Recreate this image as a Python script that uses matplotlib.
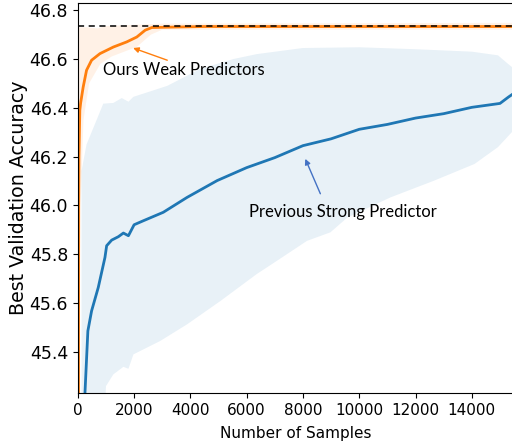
import numpy as np
from matplotlib import pyplot as plt

# previous strong predictor (blue): mean curve
strong_x = [200, 357, 489, 726, 964, 1024, 1202, 1440, 1619, 1798, 2000, 2321, 3036,
            3881, 4952, 6000, 7000, 8000, 9000, 10000, 11000, 12000, 13000, 14000,
            15000, 15300, 15500]
strong_y = [45.10, 45.486, 45.568, 45.664, 45.787, 45.835, 45.858, 45.872, 45.887,
            45.876, 45.921, 45.937, 45.972, 46.033, 46.102, 46.155, 46.196, 46.245,
            46.273, 46.312, 46.332, 46.358, 46.376, 46.402, 46.418, 46.444, 46.46]
# band edges
strong_up_x = [130, 130, 310, 667, 904, 1262, 1560, 1798, 1976, 3179, 4357, 5536,
               6357, 8000, 10000, 12000, 14000, 14929, 15286, 15500]
strong_up_y = [45.0, 46.14, 46.25, 46.35, 46.417, 46.42, 46.44, 46.425, 46.445,
               46.49, 46.56, 46.60, 46.62, 46.645, 46.648, 46.64, 46.63, 46.615,
               46.58, 46.56]
strong_lo_x = [900, 1000, 1262, 1619, 1798, 1976, 2929, 3881, 5071, 6357, 7071, 8143,
               8976, 9571, 11107, 12667, 14095, 14929, 15500]
strong_lo_y = [45.0, 45.26, 45.308, 45.339, 45.331, 45.39, 45.445, 45.513, 45.609,
               45.719, 45.773, 45.855, 45.89, 45.95, 46.033, 46.102, 46.17, 46.239,
               46.31]

# ours weak predictors (orange)
weak_x = [20, 30, 40, 71, 100, 190, 310, 489, 786, 1262, 1738, 2095, 2393, 2631,
          3524, 4500, 15500]
weak_y = [44.8, 46.0, 46.2, 46.39, 46.42, 46.485, 46.554, 46.595, 46.622, 46.649,
          46.67, 46.69, 46.718, 46.729, 46.731, 46.733, 46.733]
weak_up_x = [20, 50, 300, 700, 1000, 3000, 15500]
weak_up_y = [46.70, 46.73, 46.73, 46.725, 46.735, 46.745, 46.748]
weak_lo_x = [20, 50, 100, 200, 400, 800, 1200, 2100, 2600, 3000, 15500]
weak_lo_y = [44.5, 45.3, 46.0, 46.35, 46.5, 46.58, 46.61, 46.65, 46.70, 46.72, 46.72]

best_acc = 46.734

fig = plt.figure(figsize=(5.12, 4.42), dpi=100)
ax = fig.add_axes([0.152, 0.111, 0.852, 0.882])

ax.fill(np.concatenate([strong_up_x, strong_lo_x[::-1]]),
        np.concatenate([strong_up_y, strong_lo_y[::-1]]),
        color='tab:blue', alpha=0.1, lw=0)
ax.fill(np.concatenate([weak_up_x, weak_lo_x[::-1]]),
        np.concatenate([weak_up_y, weak_lo_y[::-1]]),
        color='tab:orange', alpha=0.1, lw=0)

ax.plot(strong_x, strong_y, color='tab:blue', lw=2)
ax.plot(weak_x, weak_y, color='tab:orange', lw=2)
ax.axhline(best_acc, color='black', lw=1.1, ls=(0, (4, 3)))

ax.set_xlim(0, 15500)
ax.set_ylim(45.232, 46.829)
ax.set_yticks([45.4, 45.6, 45.8, 46.0, 46.2, 46.4, 46.6, 46.8])
ax.set_xticks([0, 2000, 4000, 6000, 8000, 10000, 12000, 14000])
ax.tick_params(axis='x', labelsize=11)
ax.tick_params(axis='y', labelsize=12.5)
ax.set_xlabel('Number of Samples', fontsize=11, labelpad=6)
ax.set_ylabel('Best Validation Accuracy', fontsize=13.7, labelpad=1)

ann_font = ['Lato', 'DejaVu Sans']
ax.annotate('', xy=(1964, 46.645), xytext=(3179, 46.595),
            arrowprops=dict(arrowstyle='-|>', color='tab:orange', lw=1,
                            mutation_scale=8, shrinkA=0, shrinkB=0))
ax.text(893, 46.554, 'Ours Weak Predictors', fontsize=12, family=ann_font,
        va='center')
ax.annotate('', xy=(8082, 46.191), xytext=(8618, 46.048),
            arrowprops=dict(arrowstyle='-|>', color='#4472c4', lw=1,
                            mutation_scale=8, shrinkA=0, shrinkB=0))
ax.text(6071, 45.975, 'Previous Strong Predictor', fontsize=12,
        family=ann_font, va='center')

fig.savefig('out.png', dpi=100)
